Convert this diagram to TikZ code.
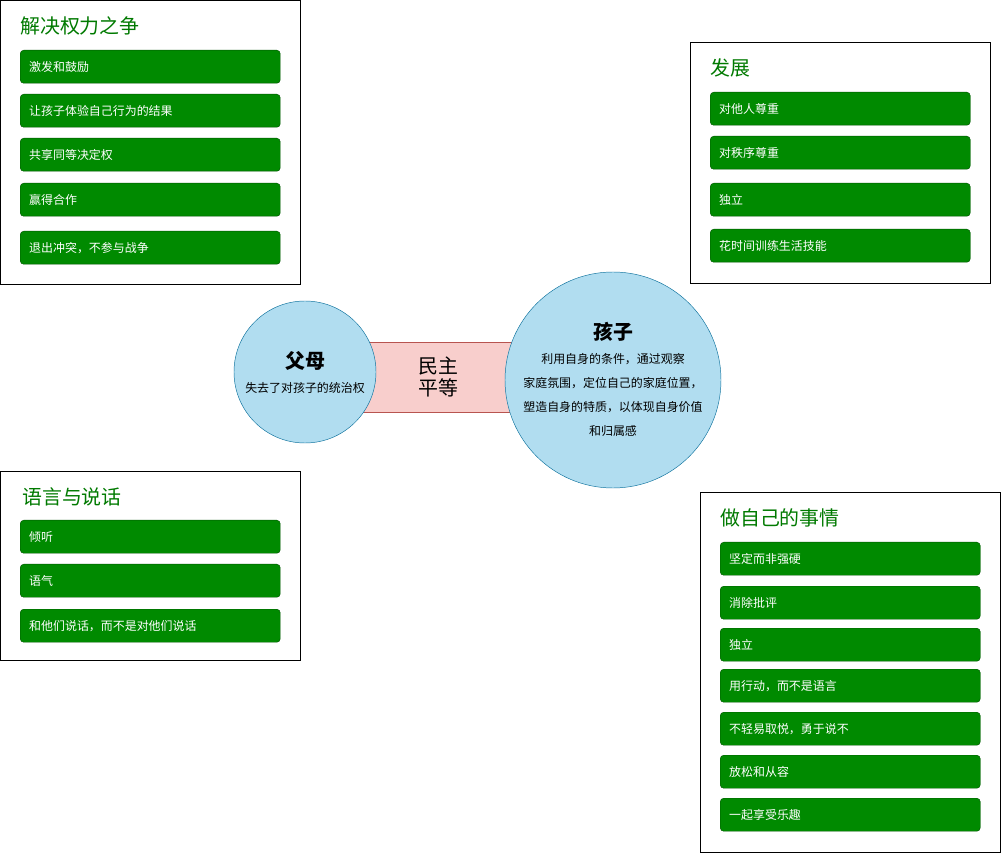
\documentclass[tikz,border=0pt]{standalone}
\usepackage{fontspec}
\setmainfont{Noto Sans CJK SC}
\usepackage{xcolor}
\usepackage{tikz}
\definecolor{itemgreen}{HTML}{008A00}
\definecolor{itemline}{HTML}{005700}
\definecolor{titlegreen}{HTML}{007A00}
\definecolor{bubblefill}{HTML}{B1DDF0}
\definecolor{bubbleline}{HTML}{10739E}
\definecolor{bandfill}{HTML}{F8CECC}
\definecolor{bandline}{HTML}{B85450}

\begin{document}
\begin{tikzpicture}[x=0.03cm, y=-0.03cm,
    panel/.style={draw=black, fill=white, anchor=north west, inner sep=0pt},
    paneltitle/.style={anchor=west, inner sep=0pt, text=titlegreen, font=\fontsize{17}{19}\selectfont},
    item/.style={draw=itemline, fill=itemgreen, rounded corners=3pt, anchor=north west,
        minimum width=7.8cm, minimum height=0.99cm, text width=7.26cm, inner xsep=0.27cm,
        align=left, text=white, font=\fontsize{10.2}{12}\selectfont},
    bubble/.style={circle, draw=bubbleline, fill=bubblefill, align=center, inner sep=0pt}]
        \useasboundingbox (0,0) rectangle (1001,853);
        % centre: parents, children and the band between them
        \node[draw=bandline, fill=bandfill, minimum width=4.65cm, minimum height=2.1cm] (band) at (438,377) {};
        \node[font=\fontsize{17}{19}\selectfont, align=center] (bandtext) at (band) {民主\\平等};
        \node[bubble, minimum size=4.26cm] (parents) at (305,372) {};
        \node[font=\fontsize{17}{19}\selectfont\bfseries] (parentsname) at (305,361) {父母};
        \node[font=\fontsize{10.2}{12}\selectfont] (parentsnote) at (305,388) {失去了对孩子的统治权};
        \node[bubble, minimum size=6.48cm] (child) at (613,380) {};
        \node[font=\fontsize{17}{19}\selectfont\bfseries] (childname) at (613,332) {孩子};
        \node[font=\fontsize{10.2}{20.4}\selectfont, align=center] (childnote) at (613,395)
            {利用自身的条件，通过观察\\家庭氛围，定位自己的家庭位置，\\塑造自身的特质，以体现自身价值\\和归属感};

        % top left
        \node[panel, minimum width=9cm, minimum height=8.52cm] (power) at (0,0) {};
        \node[paneltitle] (powertitle) at (20,26) {解决权力之争};
        \node[item] (power1) at (20,50) {激发和鼓励};
        \node[item] (power2) at (20,94) {让孩子体验自己行为的结果};
        \node[item] (power3) at (20,138) {共享同等决定权};
        \node[item] (power4) at (20,183) {赢得合作};
        \node[item] (power5) at (20,231) {退出冲突，不参与战争};

        % top right
        \node[panel, minimum width=9cm, minimum height=7.23cm] (grow) at (690,42) {};
        \node[paneltitle] (growtitle) at (710,68) {发展};
        \node[item] (grow1) at (710,92) {对他人尊重};
        \node[item] (grow2) at (710,136) {对秩序尊重};
        \node[item] (grow3) at (710,183) {独立};
        \node[item] (grow4) at (710,229) {花时间训练生活技能};

        % bottom left
        \node[panel, minimum width=9cm, minimum height=5.67cm] (talk) at (0,471) {};
        \node[paneltitle] (talktitle) at (22,497) {语言与说话};
        \node[item] (talk1) at (20,520) {倾听};
        \node[item] (talk2) at (20,564) {语气};
        \node[item] (talk3) at (20,609) {和他们说话，而不是对他们说话};

        % bottom right
        \node[panel, minimum width=9cm, minimum height=10.8cm] (self) at (700,492) {};
        \node[paneltitle] (selftitle) at (720,518) {做自己的事情};
        \node[item] (self1) at (720,542) {坚定而非强硬};
        \node[item] (self2) at (720,586) {消除批评};
        \node[item] (self3) at (720,628) {独立};
        \node[item] (self4) at (720,669) {用行动，而不是语言};
        \node[item] (self5) at (720,712) {不轻易取悦，勇于说不};
        \node[item] (self6) at (720,755) {放松和从容};
        \node[item] (self7) at (720,798) {一起享受乐趣};
\end{tikzpicture}
\end{document}
